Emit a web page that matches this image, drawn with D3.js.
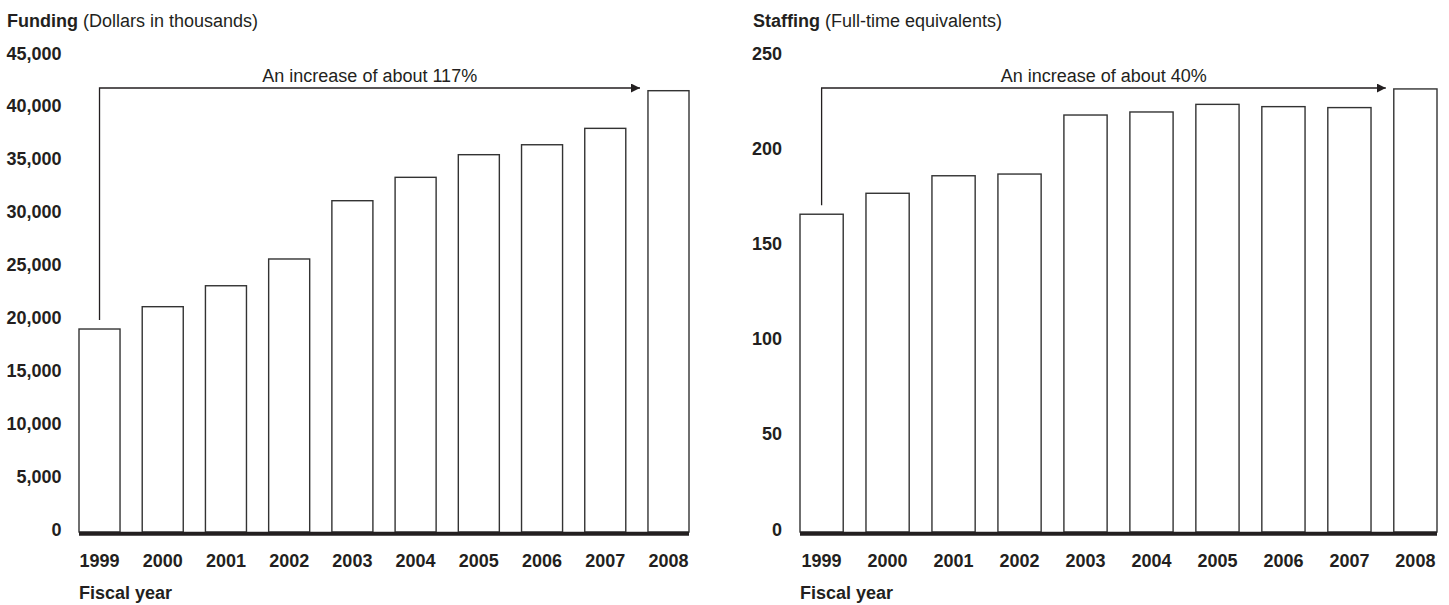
<!DOCTYPE html>
<html lang="en">
<head>
  <meta charset="UTF-8">
  <title>Funding and staffing, fiscal years 1999-2008</title>
  <script src="https://d3js.org/d3.v7.min.js"></script>
  <style>
    * { padding: 0; margin: 0; box-sizing: border-box; }
    body { background: #fff; }
    svg { display: block; font-family: "Liberation Sans", Arial, Helvetica, sans-serif; }
  </style>
</head>
<body>
  <div id="container"></div>
  <script>
    // data
    const years = ["1999", "2000", "2001", "2002", "2003", "2004", "2005", "2006", "2007", "2008"];
    const funding = [19190, 21300, 23280, 25810, 31320, 33530, 35670, 36610, 38160, 41720];
    const staffing = [166.9, 177.9, 187.1, 188.0, 219.0, 220.6, 224.6, 223.4, 222.9, 232.7];
    const fundingTicks = [0, 5000, 10000, 15000, 20000, 25000, 30000, 35000, 40000, 45000];
    const staffingTicks = [0, 50, 100, 150, 200, 250];

    const width = 1449, height = 605;
    const ink = "#231f20";

    const svg = d3.select("#container")
      .append("svg")
      .attr("width", width)
      .attr("height", height);

    // arrowhead
    svg.append("defs").append("marker")
      .attr("id", "head")
      .attr("viewBox", "0 0 10 10")
      .attr("refX", 10).attr("refY", 5)
      .attr("markerWidth", 9).attr("markerHeight", 9)
      .attr("markerUnits", "userSpaceOnUse")
      .attr("orient", "auto")
      .append("path")
      .attr("d", "M0,0L10,5L0,10Z")
      .attr("fill", ink);

    const drawPanel = ({ title, unit, values, ticks, note, tickX, x0, x1, pad, titleX }) => {
      const g = svg.append("g");

      const x = d3.scaleBand().domain(years).range([x0, x1]).paddingInner(pad).paddingOuter(0);
      const y = d3.scaleLinear().domain([0, d3.max(ticks)]).range([532, 56]);

      // title
      const t = g.append("text").attr("x", titleX).attr("y", 27)
        .attr("font-size", 18).attr("fill", ink);
      t.append("tspan").attr("font-weight", "bold").text(title);
      t.append("tspan").text(" " + unit);

      // y tick labels
      g.selectAll(".ytick")
        .data(ticks)
        .join("text")
        .attr("class", "ytick")
        .attr("x", tickX)
        .attr("y", d => y(d) + 3.5)
        .attr("text-anchor", "end")
        .attr("font-size", 18)
        .attr("font-weight", "bold")
        .attr("fill", ink)
        .text(d => d3.format(",")(d));

      // bars
      g.selectAll(".bar")
        .data(values)
        .join("rect")
        .attr("class", "bar")
        .attr("x", (d, i) => x(years[i]))
        .attr("y", d => y(d))
        .attr("width", x.bandwidth())
        .attr("height", d => y(0) - y(d))
        .attr("fill", "#fff")
        .attr("stroke", "#333")
        .attr("stroke-width", 1.4);

      // baseline
      g.append("line")
        .attr("x1", x0).attr("x2", x1)
        .attr("y1", y(0) + 1.8).attr("y2", y(0) + 1.8)
        .attr("stroke", ink)
        .attr("stroke-width", 4);

      // year labels
      g.selectAll(".xtick")
        .data(years)
        .join("text")
        .attr("class", "xtick")
        .attr("x", d => x(d) + x.bandwidth() / 2)
        .attr("y", 567)
        .attr("text-anchor", "middle")
        .attr("font-size", 18)
        .attr("font-weight", "bold")
        .attr("fill", ink)
        .text(d => d);

      g.append("text")
        .attr("x", x0)
        .attr("y", 599)
        .attr("font-size", 18)
        .attr("font-weight", "bold")
        .attr("fill", ink)
        .text("Fiscal year");

      // increase annotation: from first bar up and over to last bar
      const ax0 = x(years[0]) + x.bandwidth() / 2;
      const ax1 = x(years[years.length - 1]) - 8;
      const ay = y(d3.max(ticks)) + 32;
      g.append("path")
        .attr("d", `M${ax0},${y(values[0]) - 9}V${ay}H${ax1}`)
        .attr("fill", "none")
        .attr("stroke", ink)
        .attr("stroke-width", 1.3)
        .attr("marker-end", "url(#head)");

      g.append("text")
        .attr("x", (ax0 + ax1) / 2)
        .attr("y", ay - 6.5)
        .attr("text-anchor", "middle")
        .attr("font-size", 18)
        .attr("fill", ink)
        .text(note);
    };

    drawPanel({
      title: "Funding", unit: "(Dollars in thousands)",
      values: funding, ticks: fundingTicks,
      note: "An increase of about 117%",
      titleX: 7, tickX: 61.5, x0: 79, x1: 689, pad: 0.351
    });

    drawPanel({
      title: "Staffing", unit: "(Full-time equivalents)",
      values: staffing, ticks: staffingTicks,
      note: "An increase of about 40%",
      titleX: 753, tickX: 782, x0: 800, x1: 1437, pad: 0.345
    });
  </script>
</body>
</html>
